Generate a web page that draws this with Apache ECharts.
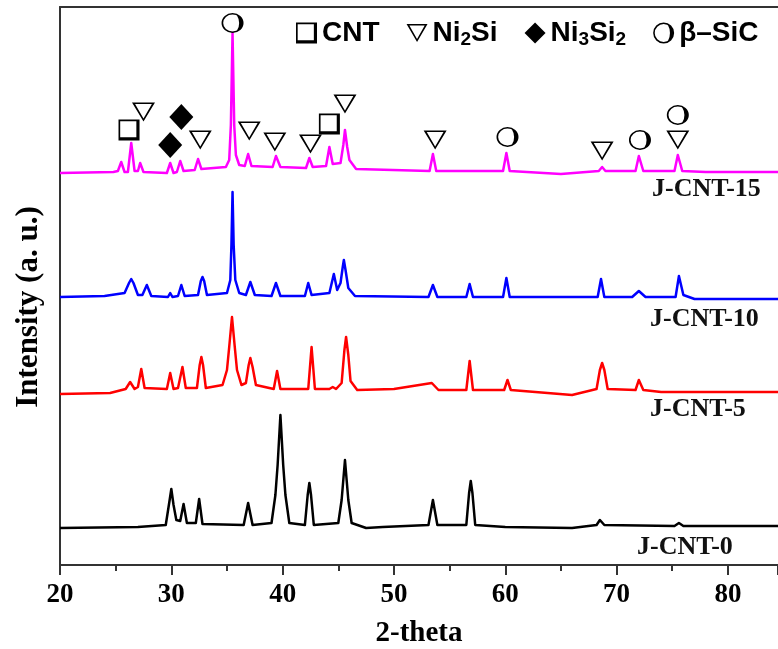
<!DOCTYPE html>
<html>
<head>
<meta charset="utf-8">
<script src="https://cdn.jsdelivr.net/npm/echarts@6/dist/echarts.min.js"></script>
<style>
html, body { margin: 0; padding: 0; background: #fff; }
#xrdChart { width: 778px; height: 649px; }
</style>
</head>
<body>
<div id="xrdChart"></div>
<script>
// 2-theta range and ticks
const xMin = 20
const xMax = 84.5
const xStep = 10

// XRD traces: [2-theta, intensity (a.u., offset stacked)]
const cnt15 = [
    [20, 392], [24.8, 393], [25.2, 394], [25.5, 403], [25.8, 393], [26.1, 393], [26.4, 422], [26.7, 394],
    [27.0, 394], [27.2, 402], [27.5, 393], [29.6, 392], [29.9, 402], [30.2, 392], [30.5, 393], [30.8, 404],
    [31.1, 394], [32.1, 395], [32.4, 406], [32.7, 396], [34.9, 398], [35.2, 405], [35.35, 440], [35.5, 532],
    [35.65, 440], [35.8, 410], [36.1, 400], [36.6, 399], [36.9, 411], [37.2, 399], [39.1, 398], [39.4, 409],
    [39.8, 398], [42.1, 397], [42.4, 407], [42.7, 398], [43.9, 399], [44.2, 418], [44.5, 401], [45.2, 402],
    [45.45, 420], [45.6, 435], [45.8, 418], [46.0, 405], [46.6, 396], [53.2, 394], [53.5, 411], [53.8, 394],
    [59.8, 394], [60.1, 412], [60.4, 394], [65, 391], [68.4, 394], [68.7, 398], [69.0, 394], [71.7, 394],
    [72.0, 409], [72.4, 394], [75.2, 394], [75.5, 410], [75.9, 394], [78, 393], [84.5, 393]
]
const cnt10 = [
    [20, 268], [24, 269], [25.8, 272], [26.2, 282], [26.4, 286], [26.6, 282], [27.0, 270], [27.4, 270],
    [27.8, 280], [28.2, 269], [29.7, 268], [29.9, 272], [30.1, 268], [30.6, 269], [30.9, 280], [31.2, 269],
    [32.4, 270], [32.65, 284], [32.8, 288], [32.95, 284], [33.2, 270], [35.0, 272], [35.3, 285], [35.4, 320],
    [35.5, 373], [35.6, 320], [35.75, 285], [36.1, 272], [36.7, 270], [37.1, 283], [37.5, 270], [39.0, 269],
    [39.4, 282], [39.8, 269], [42.0, 269], [42.3, 282], [42.6, 270], [44.2, 272], [44.6, 291], [44.9, 275],
    [45.2, 282], [45.4, 298], [45.5, 305], [45.65, 295], [45.9, 277], [46.5, 269], [53.1, 268], [53.5, 280],
    [53.9, 268], [56.5, 268], [56.8, 281], [57.1, 268], [59.8, 268], [60.1, 287], [60.4, 268], [68.3, 268],
    [68.6, 286], [68.9, 268], [71.4, 268], [72.0, 274], [72.6, 268], [75.3, 268], [75.6, 289], [76.0, 270],
    [77, 266], [84.5, 266]
]
const cnt5 = [
    [20, 171], [24.5, 172], [25.9, 176], [26.3, 183], [26.7, 176], [27.0, 178], [27.3, 196], [27.6, 177],
    [29.6, 176], [29.9, 192], [30.2, 176], [30.6, 177], [31.0, 198], [31.3, 177], [32.3, 177], [32.55, 200],
    [32.7, 208], [32.85, 200], [33.1, 177], [34.6, 180], [35.0, 195], [35.2, 218], [35.45, 248], [35.7, 218],
    [35.9, 195], [36.3, 180], [36.7, 182], [36.95, 200], [37.1, 207], [37.3, 198], [37.6, 180], [39.2, 176],
    [39.5, 194], [39.8, 176], [42.3, 176], [42.6, 218], [42.9, 176], [44.2, 176], [44.5, 178], [44.8, 176],
    [45.3, 182], [45.55, 215], [45.7, 228], [45.9, 210], [46.1, 184], [46.7, 175], [50, 176], [53.4, 182],
    [54.0, 175], [56.5, 175], [56.8, 204], [57.1, 175], [59.9, 175], [60.2, 185], [60.5, 175], [66, 170],
    [68.2, 176], [68.5, 195], [68.7, 202], [68.9, 195], [69.2, 176], [71.7, 175], [72.0, 185], [72.4, 175],
    [74, 173], [84.5, 173]
]
const cnt0 = [
    [20, 37], [27, 38], [29.5, 40], [29.85, 65], [30.0, 76], [30.2, 60], [30.45, 45], [30.8, 44], [31.1, 61],
    [31.4, 42], [32.2, 42], [32.5, 66], [32.8, 41], [36.5, 40], [36.9, 62], [37.3, 40], [39.0, 42],
    [39.35, 70], [39.55, 100], [39.8, 150], [40.05, 100], [40.25, 70], [40.6, 42], [42.0, 40], [42.25, 70],
    [42.4, 82], [42.55, 70], [42.8, 40], [45.0, 42], [45.3, 65], [45.45, 85], [45.6, 105], [45.75, 85],
    [45.9, 65], [46.2, 42], [47.5, 37], [49, 38], [53.1, 40], [53.5, 65], [53.9, 40], [56.5, 40],
    [56.75, 72], [56.9, 84], [57.05, 72], [57.3, 40], [60, 38], [66, 37], [68.2, 40], [68.5, 45], [68.9, 40],
    [75.2, 39], [75.6, 42], [76, 39], [84.5, 39]
]

// phase markers above the J-CNT-15 peaks
const cntMarks = [[26.2, 435], [44.2, 441]]
const ni2siMarks = [[27.5, 453], [32.6, 425], [37.0, 434], [39.3, 423], [42.5, 421], [45.6, 461], [53.7, 425], [68.7, 414], [75.5, 425]]
const ni3si2Marks = [[29.9, 420], [30.9, 448]]
const sicMarks = [[35.5, 542], [60.2, 428], [72.1, 425], [75.5, 450]]

const sampleNames = ['J-CNT-15', 'J-CNT-10', 'J-CNT-5', 'J-CNT-0']
const phaseNames = ['CNT', 'Ni2Si', 'Ni3Si2', 'β–SiC']

// symbols (outline + shaded edge like the original)
const squareSym = 'path://M0,0 H20 V20 H0 Z M1.6,1.6 V17 H17 V1.6 Z'
const triSym = 'path://M0,0 L20,0 L10,17 Z M2.7,1.4 L10,14.3 L17.3,1.4 Z'
const circleSym = 'path://M0,10 A10,10 0 1,1 20,10 A10,10 0 1,1 0,10 Z M1.5,10 A8.5,8.5 0 1,0 18.5,10 A8.5,8.5 0 1,0 1.5,10 Z M10,0 A10,10 0 0,1 10,20 A6,10 0 0,0 10,0 Z'

const serif = 'Liberation Serif'
const sans = 'Liberation Sans'

let chartContainer = document.getElementById('xrdChart')
let myChart = echarts.init(chartContainer)

let lineStyle = { width: 2.5, join: 'round' }
function trace(name, data, color) {
    return {
        name: name,
        type: 'line',
        data: data,
        symbol: 'none',
        smooth: false,
        lineStyle: Object.assign({ color: color }, lineStyle),
        itemStyle: { color: color },
        silent: true,
        z: 2
    }
}
function marks(name, data, symbol, size) {
    return {
        name: name,
        type: 'scatter',
        data: data,
        symbol: symbol,
        symbolSize: size,
        itemStyle: { color: '#000', opacity: 1 },
        z: 5
    }
}

function subscriptName(name) {
    if (name === 'Ni2Si') return '{n|Ni}{s|2}{n|Si}'
    if (name === 'Ni3Si2') return '{n|Ni}{s|3}{n|Si}{s|2}'
    return '{n|' + name + '}'
}

let options = {
    animation: false,
    backgroundColor: '#fff',
    grid: { left: 60, right: 0, top: 7, bottom: 84, containLabel: false, outerBoundsMode: 'none' },
    legend: {
        data: phaseNames,
        left: 291,
        top: 14,
        itemWidth: 21,
        itemHeight: 21,
        itemGap: 27,
        formatter: subscriptName,
        textStyle: {
            rich: {
                n: { fontFamily: sans, fontWeight: 'bold', fontSize: 28, color: '#000', lineHeight: 32 },
                s: { fontFamily: sans, fontWeight: 'bold', fontSize: 19, color: '#000', lineHeight: 12, verticalAlign: 'bottom' }
            }
        }
    },
    xAxis: [
        {
            type: 'value',
            min: xMin,
            max: xMax,
            interval: xStep,
            name: '2-theta',
            nameLocation: 'middle',
            nameGap: 54,
            nameTextStyle: { fontFamily: serif, fontWeight: 'bold', fontSize: 29, color: '#000' },
            axisLine: { show: true, onZero: false, lineStyle: { color: '#333', width: 2 } },
            axisTick: { show: true, inside: false, length: 10, lineStyle: { color: '#333', width: 2 } },
            minorTick: { show: true, splitNumber: 2, length: 6, lineStyle: { color: '#333', width: 2 } },
            axisLabel: { fontFamily: serif, fontWeight: 'bold', fontSize: 27, color: '#000', margin: 17, showMaxLabel: false },
            splitLine: { show: false }
        },
        {
            type: 'value',
            position: 'top',
            min: xMin,
            max: xMax,
            axisLine: { show: true, onZero: false, lineStyle: { color: '#333', width: 2 } },
            axisTick: { show: false },
            axisLabel: { show: false },
            splitLine: { show: false }
        }
    ],
    yAxis: {
        type: 'value',
        min: 0,
        max: 558,
        axisLine: { show: true, lineStyle: { color: '#333', width: 2 } },
        axisTick: { show: false },
        axisLabel: { show: false },
        splitLine: { show: false }
    },
    graphic: [
        {
            type: 'text', x: 29, y: 307, rotation: Math.PI / 2,
            style: { text: 'Intensity (a. u.)', font: 'bold 31px "Liberation Serif"', fill: '#000', align: 'center', verticalAlign: 'middle' }
        },
        { type: 'text', left: 652, top: 176, style: { text: sampleNames[0], font: 'bold 26px "Liberation Serif"', fill: '#111' } },
        { type: 'text', left: 650, top: 306, style: { text: sampleNames[1], font: 'bold 26px "Liberation Serif"', fill: '#111' } },
        { type: 'text', left: 650, top: 396, style: { text: sampleNames[2], font: 'bold 26px "Liberation Serif"', fill: '#111' } },
        { type: 'text', left: 637, top: 534, style: { text: sampleNames[3], font: 'bold 26px "Liberation Serif"', fill: '#111' } }
    ],
    series: [
        trace(sampleNames[0], cnt15, '#ff00ff'),
        trace(sampleNames[1], cnt10, '#0000ff'),
        trace(sampleNames[2], cnt5, '#ff0000'),
        trace(sampleNames[3], cnt0, '#000000'),
        marks(phaseNames[0], cntMarks, squareSym, 21),
        marks(phaseNames[1], ni2siMarks, triSym, [23, 19]),
        marks(phaseNames[2], ni3si2Marks, 'diamond', [24, 26]),
        marks(phaseNames[3], sicMarks, circleSym, [22, 20])
    ]
}
options && myChart.setOption(options)
</script>
</body>
</html>
